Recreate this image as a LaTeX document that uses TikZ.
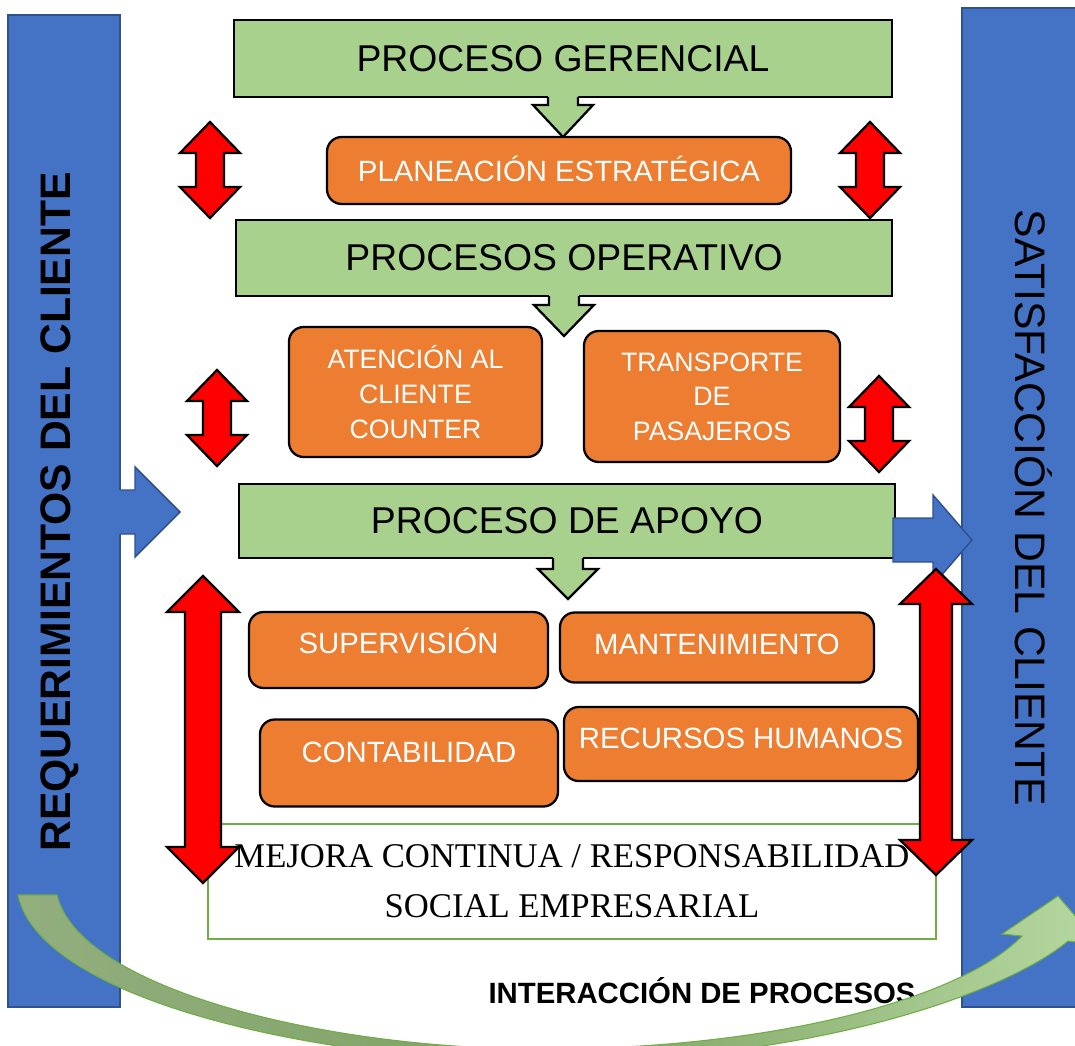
\documentclass[tikz,border=0pt]{standalone}
\usepackage{fontspec}
\setmainfont{Liberation Sans}
\newfontfamily\mejorafont{Liberation Serif}
\definecolor{barblue}{HTML}{4472C4}
\definecolor{barline}{HTML}{2F528F}
\definecolor{procgreen}{HTML}{A9D18E}
\definecolor{suborange}{HTML}{ED7D31}
\definecolor{mejline}{HTML}{70AD47}
\definecolor{curveleft}{HTML}{92AE7E}
\definecolor{curvemid}{HTML}{7DA262}
\definecolor{curveright}{HTML}{B5D8A0}
\tikzset{
  procbox/.style={draw=black, line width=1.7pt, fill=procgreen, font=\fontsize{28}{34}\selectfont},
  subbox/.style={draw=black, line width=1.7pt, fill=suborange, rounded corners=11pt, text=white, font=\fontsize{22}{26}\selectfont},
  boxsize/.style 2 args={minimum width=#1*0.75pt, minimum height=#2*0.75pt, inner sep=0pt},
  lift/.style={text height=16pt, text depth=#1},
  bluebar/.style={draw=barline, line width=1.1pt, fill=barblue},
  redarrow/.style={draw=black, line width=1.7pt, fill=red},
  downarrow/.style={draw=black, line width=1.7pt},
  sidetext/.style={font=\fontsize{32}{38}\selectfont, anchor=base},
}
\begin{document}
\begin{tikzpicture}[x=0.75pt,y=-0.75pt]
	\useasboundingbox (0,0) rectangle (1075,1046);
	% client bars
	\draw[bluebar] (8,15) rectangle (120,1007);
	\draw[bluebar] (962,8) rectangle (1080,1007);
	\fill[barblue] (110,490) -- (135,490) -- (135,467) -- (180,512) -- (135,557) -- (135,534) -- (110,534) -- cycle;
	\draw[barline, line width=1.1pt] (120,490) -- (135,490) -- (135,467) -- (180,512) -- (135,557) -- (135,534) -- (120,534);
	% processes
	\node[procbox, boxsize={658}{77}] (gerencial) at (563,58.5) {PROCESO GERENCIAL};
	\node[procbox, boxsize={656}{76}] (operativo) at (564,258) {PROCESOS OPERATIVO};
	\node[procbox, boxsize={656}{74}] (apoyo) at (567,521) {PROCESO DE APOYO};
	\foreach \cx/\ya/\yb/\yc in {563/97/105/137, 564/296/305/336, 568/558/569/599}{
		\fill[procgreen] (\cx-15,\ya-5) -- (\cx-15,\yb) -- (\cx-30,\yb) -- (\cx,\yc) -- (\cx+30,\yb) -- (\cx+15,\yb) -- (\cx+15,\ya-5) -- cycle;
		\draw[downarrow] (\cx-15,\ya) -- (\cx-15,\yb) -- (\cx-30,\yb) -- (\cx,\yc) -- (\cx+30,\yb) -- (\cx+15,\yb) -- (\cx+15,\ya);
	}
	\node[subbox, boxsize={464}{67}, lift=0.2pt] (planeacion) at (559,170.5) {PLANEACIÓN ESTRATÉGICA};
	\node[subbox, boxsize={253}{130}, align=center, font=\fontsize{20}{26}\selectfont] (atencion) at (415.5,392) {ATENCIÓN AL\\CLIENTE\\COUNTER};
	\node[subbox, boxsize={256}{131}, align=center, font=\fontsize{20}{26}\selectfont] (transporte) at (712,396.5) {TRANSPORTE\\DE\\PASAJEROS};
	\node[subbox, boxsize={299}{76}, lift=10.7pt] (supervision) at (398.5,650) {SUPERVISIÓN};
	\node[subbox, boxsize={314}{70}, lift=6.2pt] (mantenimiento) at (717,647.5) {MANTENIMIENTO};
	\node[subbox, boxsize={298}{87}, lift=16.7pt] (contabilidad) at (409,763) {CONTABILIDAD};
	\node[subbox, boxsize={354}{74}, lift=10pt] (rrhh) at (741,744) {RECURSOS HUMANOS};
	\node[draw=mejline, line width=1.5pt, fill=white, boxsize={728}{115}, align=center, font=\mejorafont\fontsize{26}{37.5}\selectfont] (mejora) at (572,881.5) {MEJORA CONTINUA / RESPONSABILIDAD\\SOCIAL EMPRESARIAL};
	% arrows
	\draw[bluebar] (893,518) -- (933,518) -- (933,495) -- (972,540) -- (933,585) -- (933,562) -- (893,562) -- cycle;
	\foreach \cx/\ya/\yb/\hw/\sw/\hl in {210/122/218/30/14/31, 870/122/218/30/14/31, 217/370/466/30/14/31, 879/376/472/30/14/31, 203/576/883/36/18/36, 936/569/875/36/16/35}{
		\draw[redarrow] (\cx,\ya) -- (\cx+\hw,\ya+\hl) -- (\cx+\sw,\ya+\hl) -- (\cx+\sw,\yb-\hl) -- (\cx+\hw,\yb-\hl) -- (\cx,\yb) -- (\cx-\hw,\yb-\hl) -- (\cx-\sw,\yb-\hl) -- (\cx-\sw,\ya+\hl) -- (\cx-\hw,\ya+\hl) -- cycle;
	}
	\node[sidetext, rotate=90, font=\bfseries\fontsize{32}{38}\selectfont] (requerimientos) at (70,512) {REQUERIMIENTOS DEL CLIENTE};
	\node[sidetext, rotate=-90] (satisfaccion) at (1015,508) {SATISFACCIÓN DEL CLIENTE};
	\node[anchor=base, font=\bfseries\fontsize{22}{26}\selectfont] (interaccion) at (702,1003) {INTERACCIÓN DE PROCESOS};
	\shadedraw[left color=curveleft, right color=curveright, middle color=curvemid, draw=mejline, line width=0.8pt]
		(18,895) -- (57,895) .. controls (80,990) and (330,1050) .. (545,1049) .. controls (770,1049) and (960,1000) .. (1022,936) -- (1002,934) -- (1058,896) -- (1100,945) -- (1068,941) .. controls (1010,990) and (820,1062) .. (545,1062) .. controls (320,1062) and (40,1000) .. (18,895) -- cycle;
\end{tikzpicture}
\end{document}
